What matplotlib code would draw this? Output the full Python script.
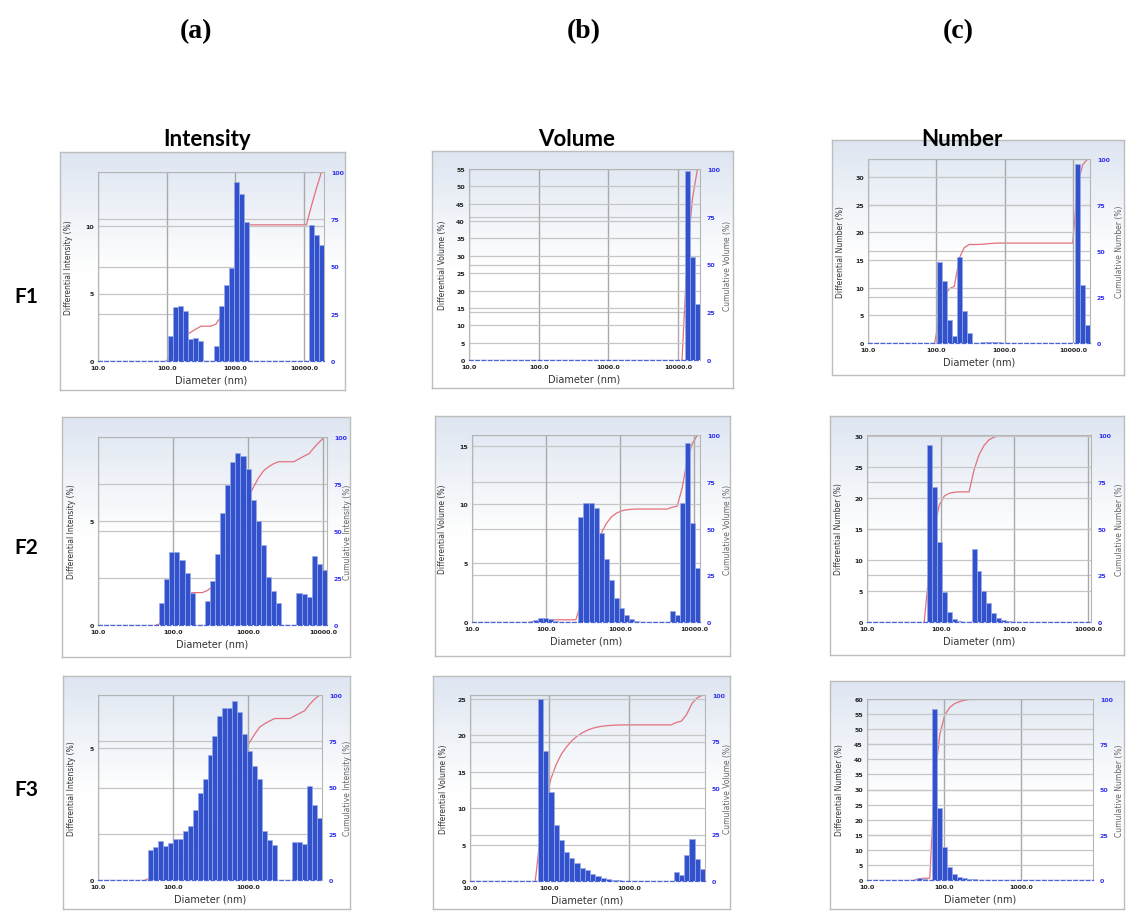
import numpy as np
import matplotlib
matplotlib.use("Agg")
import matplotlib.pyplot as plt
from matplotlib.ticker import NullLocator

# ---------------- data ----------------
DIAM_TICKS = [10, 100, 1000, 10000]
DIAM_TICK_LABELS = ["10.0", "100.0", "1000.0", "10000.0"]
N_BINS = 45
CUM_TICKS = [0, 25, 50, 75, 100]

# F1
F1_INT_XMAX = 19500
F1_INT_START = 14
F1_INT = [1.87, 3.97, 4.09, 3.72, 1.63, 1.67, 1.5, 0, 0,
          1.13, 4.09, 5.64, 6.87, 13.25, 12.4, 10.3,
          0, 0, 0, 0, 0, 0, 0, 0, 0, 0, 0, 0,
          10.1, 9.33, 8.57]
F1_VOL_XMAX = 20600
F1_VOL_START = 42
F1_VOL = [54.5, 29.7, 16.1]
F1_NUM_XMAX = 17800
F1_NUM_START = 14
F1_NUM = [14.64, 11.14, 4.1, 1.2, 15.54, 5.72, 1.8, 0, 0,
          0.2, 0.25, 0.2, 0.1,
          0, 0, 0, 0, 0, 0, 0, 0, 0, 0, 0, 0, 0, 0, 0,
          32.4, 10.5, 3.3]

# F2
F2_INT_XMAX = 11300
F2_INT_START = 12
F2_INT = [1.07, 2.2, 3.48, 3.48, 3.12, 2.48, 1.52, 0, 0,
          1.15, 2.1, 3.4, 5.35, 6.71, 7.8, 8.24, 8.08, 7.48, 6.0, 5.0, 3.85,
          2.28, 1.63, 1.07, 0, 0, 0,
          1.55, 1.47, 1.36, 3.32, 2.92, 2.64]
F2_VOL_XMAX = 12000
F2_VOL_START = 12
F2_VOL = [0.2, 0.35, 0.3, 0.25, 0.1, 0, 0, 0, 0,
          8.96, 10.1, 10.1, 9.68, 7.57, 5.35, 3.53, 2.08, 1.21, 0.58, 0.29, 0.12,
          0, 0, 0, 0, 0, 0,
          0.95, 0.58, 10.1, 15.26, 8.38, 4.57]
F2_NUM_XMAX = 11000
F2_NUM_START = 12
F2_NUM = [28.5, 21.67, 12.8, 4.9, 1.6, 0.55, 0.2, 0, 0,
          11.8, 8.2, 5.0, 3.1, 1.4, 0.7, 0.35, 0.15]

# F3
F3_INT_XMAX = 9700
F3_INT_START = 10
F3_INT = [1.13, 1.23, 1.46, 1.29, 1.39, 1.57, 1.57, 1.84, 2.05, 2.66, 3.29,
          3.82, 4.73, 5.44, 6.2, 6.5, 6.5, 6.77, 6.35, 5.53, 4.9, 4.33, 3.82,
          1.84, 1.52, 1.33, 0, 0, 0,
          1.44, 1.44, 1.38, 3.54, 2.84, 2.33]
F3_VOL_XMAX = 9150
F3_VOL_START = 13
F3_VOL = [25.0, 17.9, 12.16, 7.66, 5.6, 3.99, 3.21, 2.43, 1.83, 1.47, 1.0,
          0.69, 0.45, 0.3, 0.2, 0.12, 0.05,
          0, 0, 0, 0, 0, 0, 0, 0, 0,
          1.28, 0.78, 3.62, 5.83, 2.98, 1.6]
F3_NUM_XMAX = 8720
F3_NUM_START = 10
F3_NUM = [0.8, 0.2, 0, 56.6, 23.8, 10.8, 4.3, 2.1, 1.1, 0.8, 0.4, 0.2]

COL_TITLES = ["Intensity", "Volume", "Number"]
COL_LETTERS = ["(a)", "(b)", "(c)"]
ROW_LABELS = ["F1", "F2", "F3"]
Y_LABELS = ["Differential Intensity (%)", "Differential Volume (%)", "Differential Number (%)"]
R_LABELS = ["Cumulative Intensity (%)", "Cumulative Volume (%)", "Cumulative Number (%)"]

# ---------------- layout (pixels) ----------------
W, H = 1126, 912
fig = plt.figure(figsize=(W / 100, H / 100), dpi=100)


def frac(l, t, r, b):
    return [l / W, 1 - b / H, (r - l) / W, (b - t) / H]


BAR = "#3152cc"
BAR_EDGE = "#9aaae6"
RED = "#e3707c"
BLUE_TXT = "#3030f0"

panels = [
    # row, col, box, axes, xmax, start, values, ymax, ystep, ylab_x, rlab_x
    (0, 0, (60, 153, 345, 391), (98, 173, 324, 362), F1_INT_XMAX, F1_INT_START, F1_INT, 14.0, 5, 73, None),
    (0, 1, (432, 152, 733, 389), (469, 170, 700, 361), F1_VOL_XMAX, F1_VOL_START, F1_VOL, 55.0, 5, 447, 723),
    (0, 2, (832, 141, 1124, 376), (868, 160, 1090, 344), F1_NUM_XMAX, F1_NUM_START, F1_NUM, 33.3, 5, 845, 1115),
    (1, 0, (62, 418, 350, 658), (98, 438, 327, 626), F2_INT_XMAX, F2_INT_START, F2_INT, 9.0, 5, 76, 343),
    (1, 1, (435, 417, 730, 657), (472, 436, 700, 623), F2_VOL_XMAX, F2_VOL_START, F2_VOL, 15.9, 5, 447, 723),
    (1, 2, (830, 417, 1124, 656), (867, 436, 1091, 623), F2_NUM_XMAX, F2_NUM_START, F2_NUM, 30.1, 5, 843, 1115),
    (2, 0, (63, 677, 350, 910), (98, 696, 322, 881), F3_INT_XMAX, F3_INT_START, F3_INT, 7.0, 5, 76, 343),
    (2, 1, (433, 677, 730, 910), (470, 696, 705, 882), F3_VOL_XMAX, F3_VOL_START, F3_VOL, 25.55, 5, 448, 723),
    (2, 2, (830, 682, 1124, 910), (867, 700, 1093, 881), F3_NUM_XMAX, F3_NUM_START, F3_NUM, 60.0, 5, 844, 1115),
]

# gradient image for panel backgrounds
g = np.linspace(0, 1, 200)
fade = np.clip(g / 0.5, 0, 1)
top_col = np.array([0.87, 0.90, 0.945])
img = (top_col[None, :] * (1 - fade[:, None]) + np.ones(3)[None, :] * fade[:, None])
img = img[:, None, :]

for (row, col, box, axr, xmax, start, vals, ymax, ystep, ylab_x, rlab_x) in panels:
    # background frame
    bg = fig.add_axes(frac(*box), zorder=-5)
    bg.imshow(img, aspect="auto", extent=[0, 1, 0, 1], origin="upper")
    bg.set_xlim(0, 1)
    bg.set_ylim(0, 1)
    bg.set_xticks([])
    bg.set_yticks([])
    for s in bg.spines.values():
        s.set_color("#bdbdbd")
        s.set_linewidth(1.0)

    ax = fig.add_axes(frac(*axr))
    ax2 = ax.twinx()
    ax.set_zorder(2)
    ax2.set_zorder(1)
    ax.patch.set_visible(False)
    ax2.patch.set_visible(False)

    edges = np.logspace(1, np.log10(xmax), N_BINS + 1)
    centers = np.sqrt(edges[:-1] * edges[1:])
    heights = np.zeros(N_BINS)
    heights[start:start + len(vals)] = vals

    ax.set_xscale("log")
    ax.set_xlim(10, xmax)
    ax.set_ylim(0, ymax)

    nz = heights > 0
    ax.bar(edges[:-1][nz], heights[nz], width=np.diff(edges)[nz], align="edge",
           color=BAR, edgecolor=BAR_EDGE, linewidth=0.5, zorder=3)

    # cumulative curve
    cum = np.cumsum(heights) / heights.sum() * 100
    i0 = max(start - 1, 0)
    ax2.plot(centers[i0:], cum[i0:], color=RED, lw=0.9, zorder=2)
    ax2.set_ylim(0, 100)

    ticks = [t for t in DIAM_TICKS if t <= xmax * 1.001]
    labs = [DIAM_TICK_LABELS[DIAM_TICKS.index(t)] for t in ticks]
    ax.set_xticks(ticks, labs, fontsize=4.5, fontweight="bold", color="#222222")
    ax.xaxis.set_minor_locator(NullLocator())
    yt = list(np.arange(0, ymax + 0.01, ystep))
    ax.set_yticks(yt, [f"{int(v)}" for v in yt], fontsize=4.5, fontweight="bold", color="#222222")
    ax2.set_yticks(CUM_TICKS, [str(v) for v in CUM_TICKS], fontsize=4.5, fontweight="bold", color=BLUE_TXT)
    ax.tick_params(length=0, pad=3)
    ax2.tick_params(length=0, pad=5)

    ax.set_axisbelow(True)
    ax.xaxis.grid(True, color="#a9a9a9", lw=1.0)
    ax.yaxis.grid(True, color="#c6c6c6", lw=0.9)
    ax2.yaxis.grid(True, color="#c6c6c6", lw=0.9)

    for s in ax.spines.values():
        s.set_color("#b5b5b5")
        s.set_linewidth(0.8)
    ax.spines["bottom"].set_color("#4a64d4")
    ax.spines["bottom"].set_linestyle((0, (3, 2)))
    ax.spines["bottom"].set_linewidth(0.9)
    for s in ax2.spines.values():
        s.set_visible(False)

    ax.set_xlabel("Diameter (nm)", fontsize=7, labelpad=3, color="#333333")
    width_px = axr[2] - axr[0]
    ax.set_ylabel(Y_LABELS[col], fontsize=5.5, color="#333333")
    ax.yaxis.set_label_coords((ylab_x - axr[0]) / width_px, 0.5)
    if rlab_x is not None:
        ax2.set_ylabel(R_LABELS[col], fontsize=5.5, color="#666666")
        ax2.yaxis.set_label_coords((rlab_x - axr[0]) / width_px, 0.5)

# headers
for x, t in zip([196, 584, 958], COL_LETTERS):
    fig.text(x / W, 1 - 32 / H, t, ha="center", va="center", fontsize=20,
             fontweight="bold", family="Liberation Serif")
for x, t in zip([207, 577, 962], COL_TITLES):
    fig.text(x / W, 1 - 140 / H, t, ha="center", va="center", fontsize=16,
             fontweight="bold", family="Lato")
for y, t in zip([297, 548, 790], ROW_LABELS):
    fig.text(26 / W, 1 - y / H, t, ha="center", va="center", fontsize=15,
             fontweight="bold", family="Lato")

fig.savefig("out.png", dpi=100)
